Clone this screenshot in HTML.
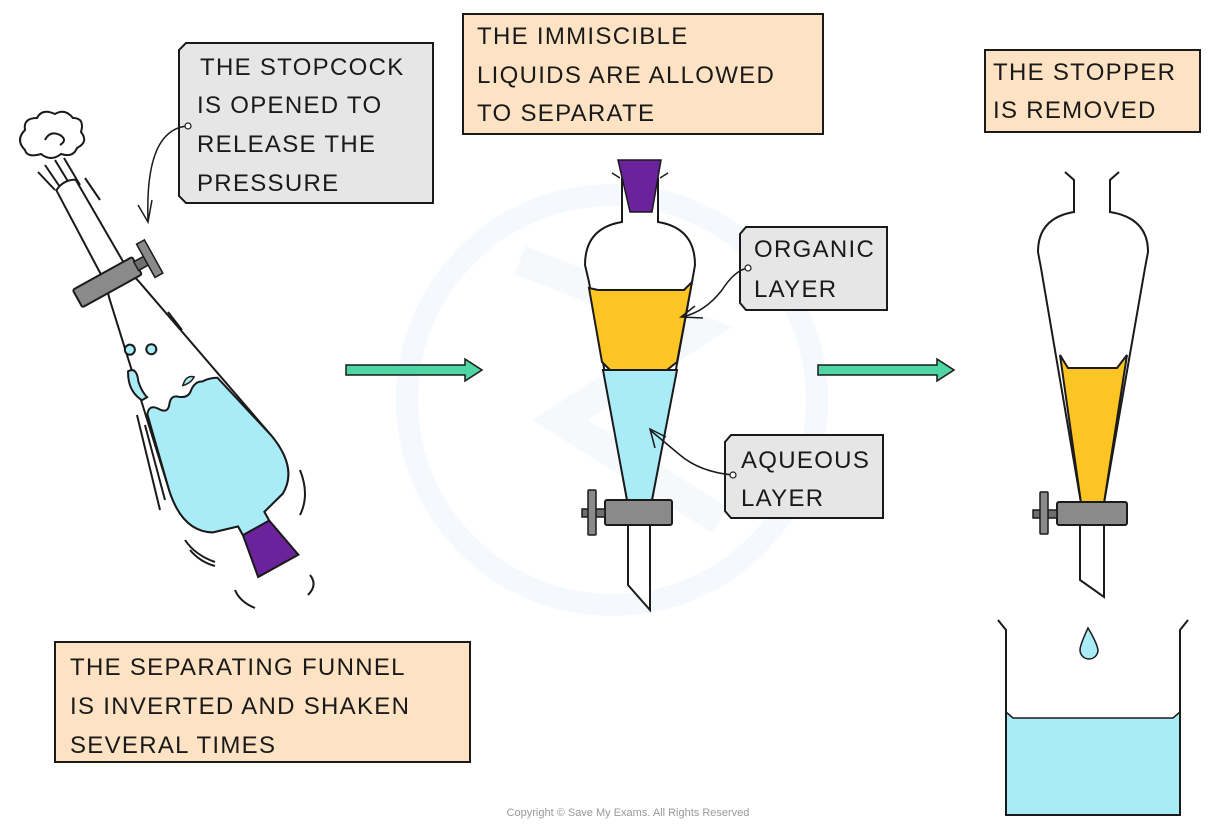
<!DOCTYPE html>
<html><head><meta charset="utf-8"><style>
html,body{margin:0;padding:0;background:#fff;}
svg{display:block;}
text{font-family:"Liberation Sans",sans-serif;font-size:24px;fill:#1a1a1a;letter-spacing:1.3px;}
</style></head><body>
<svg width="1226" height="825" viewBox="0 0 1226 825" xmlns="http://www.w3.org/2000/svg">
<!-- faint watermark -->
<circle cx="612" cy="400" r="205" fill="none" stroke="#f5f8fc" stroke-width="22"/>
<path d="M520 260 L700 330 L560 420 L720 520" fill="none" stroke="#f6f9fc" stroke-width="30"/>

<!-- LEFT FUNNEL -->
<g fill="none" stroke="#1a1a1a" stroke-width="2">
 <path d="M25 150 q-10 -10 0 -20 q-2 -12 12 -12 q5 -10 18 -4 q10 -6 18 4 q12 0 8 14 q8 10 -4 16 q-4 10 -16 6 q-10 8 -20 0 q-14 4 -16 -4z" fill="#fff"/>
 <path d="M45 140 q5 -10 15 -5 q8 5 0 10" />
 <path d="M45 165 L62 190 M55 160 L72 188 M64 158 L80 185 M38 172 L55 190 M85 178 L100 200"/>
 <path d="M168 312 L182 330 M172 322 L185 345 M137 415 L160 510 M145 425 L165 500 M185 540 q10 15 30 22 M190 550 q10 12 25 16 M300 470 q10 25 0 45 M310 575 q8 10 -2 20 M235 590 q5 12 20 18"/>
</g>
<g transform="translate(66,185) rotate(-29)">
 <path d="M-11 0 L-13 105 L-17 120 L-58 318 Q-66 360 -40 375 L-15 382 L-15 400 L15 400 L15 382 L40 375 Q66 360 58 318 L17 120 L13 105 L11 0 Q0 -6 -11 0Z" fill="#fff" stroke="#1a1a1a" stroke-width="2"/>
 <path d="M-40 240 q6 -8 12 0 q6 10 12 2 q6 -8 12 -2 q8 6 14 0 q8 -6 14 -2 q8 0 15 4 L58 318 Q66 360 40 375 L15 382 L15 398 L-15 398 L-15 382 L-40 375 Q-66 360 -58 318 Z" fill="#a9ecf8" stroke="#1a1a1a" stroke-width="2"/>
 <path d="M-38 225 q-8 -15 2 -32 q10 0 4 14 q-2 10 0 18z" fill="#a9ecf8" stroke="#1a1a1a" stroke-width="2"/>
 <circle cx="-24" cy="175" r="5" fill="#a9ecf8" stroke="#1a1a1a" stroke-width="2"/>
 <circle cx="-5" cy="185" r="5" fill="#a9ecf8" stroke="#1a1a1a" stroke-width="2"/>
 <path d="M5 232 q8 -8 14 -2 q-6 4 -14 2z" fill="#a9ecf8" stroke="#1a1a1a" stroke-width="1.5"/>
 <path d="M-15 392 L15 392 L24 436 L-22 436 Z" fill="#6a239a" stroke="#1a1a1a" stroke-width="2"/>
 <rect x="-45" y="95" width="68" height="20" rx="2" fill="#8a8a8a" stroke="#1a1a1a" stroke-width="2"/>
 <rect x="22" y="100" width="18" height="10" fill="#6e6e6e" stroke="#1a1a1a" stroke-width="1.5"/>
 <rect x="33" y="86" width="9" height="38" fill="#8a8a8a" stroke="#1a1a1a" stroke-width="1.5"/>
</g>
<!-- stopcock label -->
<path d="M186 43 L433 43 L433 203 L186 203 L179 196 L179 50 Z" fill="#e6e6e6" stroke="#1a1a1a" stroke-width="2"/>
<text x="200" y="75">THE  STOPCOCK</text>
<text x="197" y="113">IS OPENED TO</text>
<text x="197" y="152">RELEASE THE</text>
<text x="197" y="191">PRESSURE</text>
<path d="M187 126 Q145 130 148 220" fill="none" stroke="#1a1a1a" stroke-width="1.5"/>
<path d="M138 205 L148 222 L152 200" fill="none" stroke="#1a1a1a" stroke-width="1.5"/>
<circle cx="188" cy="126" r="3" fill="#fff" stroke="#1a1a1a" stroke-width="1.2"/>

<!-- bottom-left label -->
<rect x="55" y="642" width="415" height="120" fill="#fde3c4" stroke="#1a1a1a" stroke-width="2"/>
<text x="70" y="675">THE SEPARATING FUNNEL</text>
<text x="70" y="714">IS INVERTED AND SHAKEN</text>
<text x="70" y="753">SEVERAL TIMES</text>

<!-- arrows -->
<path d="M346 365 L465 365 L465 359 L482 370 L465 381 L465 375 L346 375 Z" fill="#4fd6a5" stroke="#1a1a1a" stroke-width="1.5"/>
<path d="M818 365 L937 365 L937 359 L954 370 L937 381 L937 375 L818 375 Z" fill="#4fd6a5" stroke="#1a1a1a" stroke-width="1.5"/>

<!-- middle label -->
<rect x="463" y="14" width="360" height="120" fill="#fde3c4" stroke="#1a1a1a" stroke-width="2"/>
<text x="477" y="44">THE IMMISCIBLE</text>
<text x="477" y="83">LIQUIDS ARE ALLOWED</text>
<text x="477" y="121">TO SEPARATE</text>

<!-- MIDDLE FUNNEL -->
<path d="M622 178 L622 222 Q585 228 585 265 L589 282 L627 500 L652 500 L692 282 L695 265 Q695 228 658 222 L658 178" fill="#fff" stroke="#1a1a1a" stroke-width="2"/>
<path d="M589 288 L598 290 L684 290 L692 282 L677 362 L667 370 L610 370 L602 362 Z" fill="#fcc523" stroke="#1a1a1a" stroke-width="2"/>
<path d="M603 370 L677 370 L652 500 L627 500 Z" fill="#a9ecf8" stroke="#1a1a1a" stroke-width="2"/>
<path d="M618 160 L661 160 L652 212 L630 212 Z" fill="#6a239a" stroke="#1a1a1a" stroke-width="1.5"/>
<path d="M612 173 L620 178 M668 173 L660 178" stroke="#1a1a1a" stroke-width="1.5"/>
<path d="M628 525 L628 585 L650 610 L650 525" fill="#fff" stroke="#1a1a1a" stroke-width="2"/>
<rect x="605" y="500" width="67" height="25" rx="2" fill="#8a8a8a" stroke="#1a1a1a" stroke-width="2"/>
<rect x="582" y="509" width="23" height="8" fill="#6e6e6e" stroke="#1a1a1a" stroke-width="1.5"/>
<rect x="588" y="490" width="8" height="45" rx="1" fill="#8a8a8a" stroke="#1a1a1a" stroke-width="1.5"/>
<!-- organic label -->
<path d="M746 227 L887 227 L887 310 L746 310 L740 303 L740 234 Z" fill="#e6e6e6" stroke="#1a1a1a" stroke-width="2"/>
<text x="754" y="257">ORGANIC</text>
<text x="754" y="297">LAYER</text>
<path d="M748 268 Q735 270 722 290 Q705 312 682 317" fill="none" stroke="#1a1a1a" stroke-width="1.5"/>
<path d="M695 306 L681 317 L703 318" fill="none" stroke="#1a1a1a" stroke-width="1.5"/>
<circle cx="748" cy="268" r="3" fill="#fff" stroke="#1a1a1a" stroke-width="1.2"/>
<!-- aqueous label -->
<path d="M731 435 L883 435 L883 518 L731 518 L725 511 L725 442 Z" fill="#e6e6e6" stroke="#1a1a1a" stroke-width="2"/>
<text x="741" y="468">AQUEOUS</text>
<text x="741" y="506">LAYER</text>
<path d="M733 475 Q700 472 680 455 Q662 440 650 430" fill="none" stroke="#1a1a1a" stroke-width="1.5"/>
<path d="M666 437 L650 429 L655 448" fill="none" stroke="#1a1a1a" stroke-width="1.5"/>
<circle cx="733" cy="475" r="3" fill="#fff" stroke="#1a1a1a" stroke-width="1.2"/>

<!-- right label -->
<rect x="985" y="50" width="215" height="82" fill="#fde3c4" stroke="#1a1a1a" stroke-width="2"/>
<text x="993" y="80">THE  STOPPER</text>
<text x="993" y="118">IS  REMOVED</text>

<!-- RIGHT FUNNEL -->
<path d="M1065 172 L1074 180 L1074 212 Q1038 218 1038 252 L1041 268 L1081 503 L1104 503 L1145 268 L1148 252 Q1148 218 1110 212 L1110 180 L1119 172" fill="#fff" stroke="#1a1a1a" stroke-width="2"/>
<path d="M1060 355 L1068 368 L1117 368 L1127 355 L1104 503 L1081 503 Z" fill="#fcc523" stroke="#1a1a1a" stroke-width="2"/>
<path d="M1080 525 L1080 580 L1104 597 L1104 525" fill="#fff" stroke="#1a1a1a" stroke-width="2"/>
<rect x="1057" y="502" width="70" height="23" rx="2" fill="#8a8a8a" stroke="#1a1a1a" stroke-width="2"/>
<rect x="1033" y="510" width="24" height="8" fill="#6e6e6e" stroke="#1a1a1a" stroke-width="1.5"/>
<rect x="1040" y="492" width="8" height="42" rx="1" fill="#8a8a8a" stroke="#1a1a1a" stroke-width="1.5"/>
<path d="M1088 628 Q1080 645 1080 650 A9 9 0 0 0 1098 650 Q1097 643 1088 628Z" fill="#a9ecf8" stroke="#1a1a1a" stroke-width="1.5"/>
<!-- beaker -->
<path d="M1006 712 L1013 718 L1173 718 L1180 712 L1180 815 L1006 815 Z" fill="#a9ecf8" stroke="none"/>
<path d="M998 620 L1006 630 L1006 815 L1180 815 L1180 630 L1188 620" fill="none" stroke="#1a1a1a" stroke-width="2"/>
<path d="M1006 712 L1013 718 L1173 718 L1180 712" fill="none" stroke="#1a1a1a" stroke-width="1.5"/>

<text x="628" y="816" text-anchor="middle" style="font-size:11px;fill:#999;letter-spacing:0">Copyright © Save My Exams. All Rights Reserved</text>
</svg>
</body></html>
